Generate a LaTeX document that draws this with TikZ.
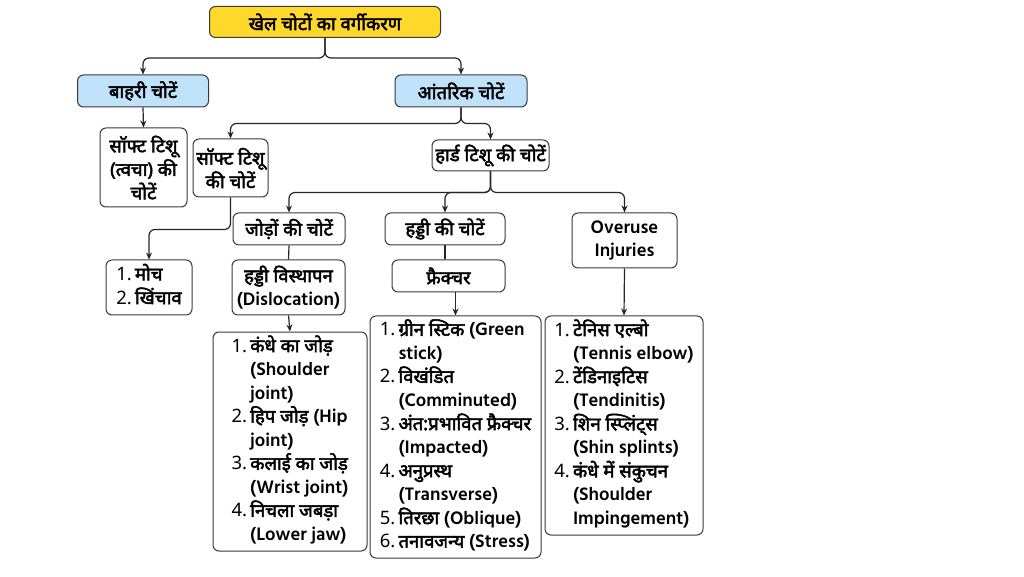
\documentclass[tikz,border=0pt]{standalone}
\usepackage{fontspec}
\usepackage{array}
\setmainfont[Script=Devanagari, AutoFakeBold=2.6]{Noto Sans}
\newfontfamily\lat{Hind Madurai}
\usetikzlibrary{arrows.meta}
\definecolor{gold}{HTML}{FFD82B}
\definecolor{skyb}{HTML}{BFE2FA}
\definecolor{edge}{HTML}{3A3A3A}
\newcommand{\bxfont}{\bfseries\fontsize{18.5}{23.5}\selectfont}
\newcommand{\en}[1]{{\lat\bfseries #1}}
\newenvironment{items}{\begin{tabular}{@{}>{\mdseries}r@{\,}>{\bfseries}l@{}}}{\end{tabular}}

\begin{document}
\begin{tikzpicture}[x=1pt,y=1pt]
    \tikzstyle{box}=[draw=edge, line width=1pt, rounded corners=6pt, fill=white, align=center, inner sep=1pt, font=\bxfont]
    \tikzstyle{conn}=[draw=black!85, line width=1.2pt, rounded corners=6pt]
    \tikzstyle{arr}=[conn, -{Stealth[length=7pt,width=6pt]}]
    \useasboundingbox (0,0) rectangle (1024,576);
    \fill[white] (0,0) rectangle (1024,576);
    % top level
    \node[box, fill=gold, minimum width=231, minimum height=31] (top) at (325,554){खेल चोटों का वर्गीकरण};
    \node[box, fill=skyb, minimum width=131, minimum height=32] (ext) at (143,485){बाहरी चोटें};
    \node[box, fill=skyb, minimum width=132, minimum height=32] (int) at (461,485){आंतरिक चोटें};
    % second level
    \node[box, minimum width=87, minimum height=79] (tv) at (143.5,408.5){सॉफ्ट टिशू\\(त्वचा) की\\चोटें};
    \node[box, minimum width=75, minimum height=58] (soft) at (230.5,408){सॉफ्ट टिशू\\की चोटें};
    \node[box, minimum width=117, minimum height=31] (hard) at (490.5,420.5){हार्ड टिशू की चोटें};
    % third level
    \node[box, minimum width=112, minimum height=32] (jod) at (289,347){जोड़ों की चोटें};
    \node[box, minimum width=120, minimum height=32] (haddi) at (445,347){हड्डी की चोटें};
    \node[box, minimum width=105, minimum height=55] (over) at (624.5,335.5){\en{Overuse}\\\en{Injuries}};
    \node[box, minimum width=86, minimum height=55] (moch) at (149,288.5){\begin{items}1. & मोच\\2. & खिंचाव\end{items}};
    \node[box, minimum width=113, minimum height=55] (disl) at (288.5,288.5){हड्डी विस्थापन\\\en{(Dislocation)}};
    \node[box, minimum width=113, minimum height=32] (fr) at (448.5,300){फ्रैक्चर};
    % lists
    \node[box, minimum width=154, minimum height=219] (l1) at (290,134.5){\begin{items}
      1. & कंधे का जोड़\\ & \en{(Shoulder}\\ & \en{joint)}\\
      2. & हिप जोड़ \en{(Hip}\\ & \en{joint)}\\
      3. & कलाई का जोड़\\ & \en{(Wrist joint)}\\
      4. & निचला जबड़ा\\ & \en{(Lower jaw)}\end{items}};
    \node[box, minimum width=171, minimum height=242] (l2) at (455.5,139){\begin{items}
      1. & ग्रीन स्टिक \en{(Green}\\ & \en{stick)}\\
      2. & विखंडित\\ & \en{(Comminuted)}\\
      3. & अंत:प्रभावित फ्रैक्चर\\ & \en{(Impacted)}\\
      4. & अनुप्रस्थ\\ & \en{(Transverse)}\\
      5. & तिरछा \en{(Oblique)}\\
      6. & तनावजन्य \en{(Stress)}\end{items}};
    \node[box, minimum width=158, minimum height=219] (l3) at (624,150.5){\begin{items}
      1. & टेनिस एल्बो\\ & \en{(Tennis elbow)}\\
      2. & टेंडिनाइटिस\\ & \en{(Tendinitis)}\\
      3. & शिन स्प्लिंट्स\\ & \en{(Shin splints)}\\
      4. & कंधे में संकुचन\\ & \en{(Shoulder}\\ & \en{Impingement)}\end{items}};
    % connectors
    \draw[arr] (top.south) -- ++(0,-20) -| (ext.north);
    \draw[arr] (top.south) -- ++(0,-20) -| (int.north);
    \draw[arr] (ext.south) -- (tv.north);
    \draw[arr] (int.south) -- ++(0,-16) -| (soft.north);
    \draw[arr] (int.south) -- ++(0,-16) -| (hard.north);
    \draw[arr] (hard.south) -- ++(0,-21) -| (jod.north);
    \draw[arr] (hard.south) -- ++(0,-21) -| (haddi.north);
    \draw[arr] (hard.south) -- ++(0,-21) -| (over.north);
    \draw[arr] (soft.south) -- ++(0,-32) -| (moch.north);
    \draw[conn] (jod.south) -- (disl.north);
    \draw[conn] (haddi.south) -- (haddi.south |- fr.north);
    \draw[arr] (disl.south) -- (l1.north);
    \draw[arr] (l2.north |- fr.south) -- (l2.north);
    \draw[arr] (over.south) -- (l3.north);
\end{tikzpicture}
\end{document}
